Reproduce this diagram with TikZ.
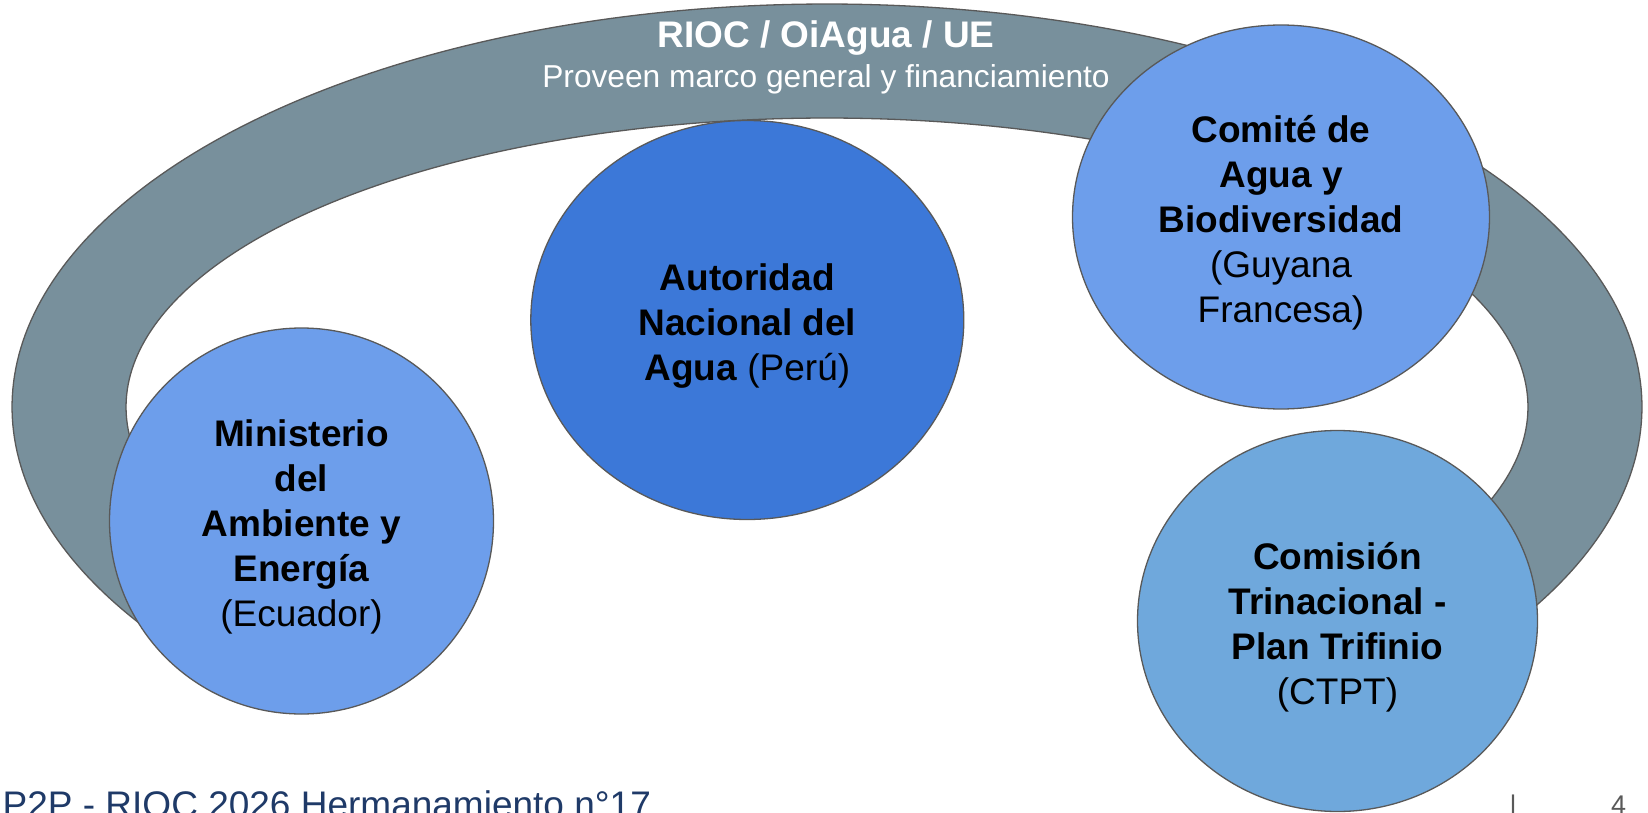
\documentclass[tikz,border=0pt]{standalone}
\usepackage{fontspec}
\setmainfont{Liberation Sans}
\usetikzlibrary{shapes.geometric}
\definecolor{bandgray}{HTML}{78909C}
\definecolor{edgegray}{HTML}{595959}
\definecolor{lightblue}{HTML}{6D9EEB}
\definecolor{darkblue}{HTML}{3C78D8}
\definecolor{skyblue}{HTML}{6FA8DC}
\definecolor{navy}{HTML}{1F3A68}
\definecolor{pagegray}{HTML}{595959}
\newcommand\mytopgap{\rule{0pt}{39pt}}
\begin{document}
\begin{tikzpicture}[x=1pt,y=-1pt,
  blob/.style={ellipse, draw=edgegray, line width=1.3pt, inner sep=0pt, align=center,
    font=\fontsize{37}{45}\selectfont, text=black},
  bandtext/.style={anchor=base, inner sep=0pt, text=white},
  pagetext/.style={inner sep=0pt, text=pagegray, font=\fontsize{27}{30}\selectfont}
  ]
\useasboundingbox (0,0) rectangle (1648,813);
\clip (0,0) rectangle (1648,813);
\fill[white] (0,0) rectangle (1648,813);
% gray band (arc of an elliptic ring)
\filldraw[fill=bandgray, draw=edgegray, line width=1.3pt]
  plot[domain=140:396, samples=260] ({827+815*cos(\x)},{407+403*sin(\x)})
  -- plot[domain=396:140, samples=260] ({827+701*cos(\x)},{407+289*sin(\x)})
  -- cycle;
\node[bandtext, font=\fontsize{37}{45}\selectfont\bfseries] (title) at (826,48) {RIOC / OiAgua / UE};
\node[bandtext, font=\fontsize{31.7}{38}\selectfont] (sub) at (826,88) {Proveen marco general y financiamiento};
% organisations
\node[blob, fill=darkblue, minimum width=433pt, minimum height=399pt] (ana) at (747.3,320)
  {\mytopgap\textbf{Autoridad}\\\textbf{Nacional del}\\\textbf{Agua} (Perú)};
\node[blob, fill=lightblue, minimum width=417pt, minimum height=384pt] (cab) at (1281,217)
  {\mytopgap\textbf{Comité de}\\\textbf{Agua y}\\\textbf{Biodiversidad}\\(Guyana\\Francesa)};
\node[blob, fill=lightblue, minimum width=384pt, minimum height=386pt] (mae) at (301.5,521)
  {\mytopgap\textbf{Ministerio}\\\textbf{del}\\\textbf{Ambiente y}\\\textbf{Energía}\\(Ecuador)};
\node[blob, fill=skyblue, minimum width=400pt, minimum height=381pt] (ctpt) at (1337.5,621)
  {\mytopgap\textbf{Comisión}\\\textbf{Trinacional -}\\\textbf{Plan Trifinio}\\(CTPT)};
% footer
\node[anchor=base west, inner sep=0pt, text=navy, font=\fontsize{37}{45}\selectfont] (foot) at (2.5,817)
  {P2P - RIOC 2026 Hermanamiento n°17};
\node[pagetext, anchor=base] (bar) at (1513,814) {|};
\node[pagetext, anchor=base west] (pnum) at (1611,814) {4};
\end{tikzpicture}
\end{document}
